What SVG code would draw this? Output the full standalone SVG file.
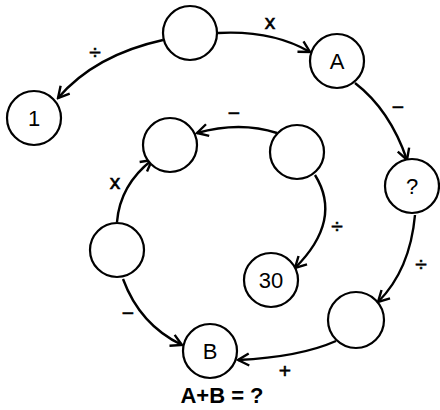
<svg xmlns="http://www.w3.org/2000/svg" width="440" height="410" viewBox="0 0 440 410">
<style>
.n{fill:#fff;stroke:#000;stroke-width:2.2}
.t{font-family:"Liberation Sans",Arial,sans-serif;font-size:22px;fill:#000;text-anchor:middle}
.c{fill:none;stroke:#000;stroke-width:2.4;marker-end:url(#ah)}
.l{font-family:"Liberation Sans",Arial,sans-serif;font-size:21px;fill:#000;stroke:#000;stroke-width:0.6;text-anchor:middle}
</style>
<defs>
<marker id="ah" markerUnits="userSpaceOnUse" markerWidth="16" markerHeight="16" refX="0" refY="0" viewBox="-14 -8 16 16" orient="auto">
<path d="M-11,-6 L0,0 L-11,6" fill="none" stroke="#000" stroke-width="2.4"/>
</marker>
</defs>
<rect width="440" height="410" fill="#fff"/>
<g id="connectors">
<path class="c" d="M218,33 Q272,30 310,52"/>
<path class="c" d="M163,40 Q95,55 58,98"/>
<path class="c" d="M355,83 Q390,110 407,160"/>
<path class="c" d="M415,215 Q410,270 378,302"/>
<path class="c" d="M336,341 Q300,357 238,360"/>
<path class="c" d="M123,279 Q140,325 182,345"/>
<path class="c" d="M117,222 Q120,185 152,160"/>
<path class="c" d="M277,133 Q240,121 197,133"/>
<path class="c" d="M315,175 Q343,220 295,268"/>
<text class="l" x="270" y="29">x</text>
<text class="l" x="95" y="59">÷</text>
<text class="l" x="398" y="114">−</text>
<text class="l" x="421" y="271">÷</text>
<text class="l" x="285" y="378">+</text>
<text class="l" x="128" y="320">−</text>
<text class="l" x="115" y="189">x</text>
<text class="l" x="234" y="120">−</text>
<text class="l" x="337" y="233">÷</text>
</g>
<g id="n-top"><circle class="n" cx="190" cy="33" r="27"/></g>
<g id="n-1"><circle class="n" cx="34" cy="118" r="27"/><text class="t" x="34" y="126">1</text></g>
<g id="n-A"><circle class="n" cx="337" cy="61" r="27"/><text class="t" x="337" y="69">A</text></g>
<g id="n-q"><circle class="n" cx="412" cy="186" r="27"/><text class="t" x="412" y="194">?</text></g>
<g id="n-br"><circle class="n" cx="356" cy="320" r="28"/></g>
<g id="n-B"><circle class="n" cx="210" cy="351" r="27"/><text class="t" x="210" y="359">B</text></g>
<g id="n-30"><circle class="n" cx="271" cy="280" r="27"/><text class="t" x="271" y="288">30</text></g>
<g id="n-ir"><circle class="n" cx="297" cy="152" r="27"/></g>
<g id="n-il"><circle class="n" cx="170" cy="145" r="27"/></g>
<g id="n-lm"><circle class="n" cx="117" cy="250" r="27"/></g>
<text x="222" y="403" style="font-family:'Liberation Sans',Arial,sans-serif;font-size:22px;font-weight:bold;text-anchor:middle">A+B = ?</text>
</svg>
